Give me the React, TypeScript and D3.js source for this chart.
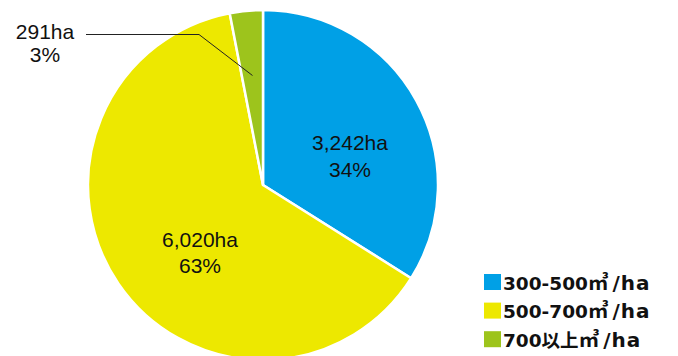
import React from "react";
import * as d3 from "d3";

const categories = ["300-500㎥/ha", "500-700㎥/ha", "700以上㎥/ha"];
const areas = [3242, 6020, 291];
const colors = ["#00a0e6", "#ede800", "#9dc41c"];

const W = 678, H = 356;
const cx = 263, cy = 185, R = 175;

export default function App() {
  const pie = d3.pie<number>().sort(null).value(d => d)(areas);
  const arc = d3.arc<d3.PieArcDatum<number>>().innerRadius(0).outerRadius(R);
  const total = d3.sum(areas);
  const fmtNum = d3.format(",");
  const pct = (v: number) => Math.round((v / total) * 100) + "%";

  // label layout (text placement)
  const labels = [
    { x: 350, y1: 150, y2: 177 },
    { x: 200, y1: 247, y2: 273 },
    { x: 45, y1: 39, y2: 62 },
  ];
  const leaderArc = d3.arc<d3.PieArcDatum<number>>().innerRadius(110).outerRadius(110);
  const gEnd = leaderArc.centroid(pie[2]);

  return (
    <svg width={W} height={H} style={{ position: "absolute", left: 0, top: 0 }}>
      <rect width={W} height={H} fill="#fff" />
      <g transform={`translate(${cx},${cy})`}>
        {pie.map((p, i) => (
          <path key={i} d={arc(p) || ""} fill={colors[i]} stroke="#fff" strokeWidth={2.5} strokeLinejoin="round" />
        ))}
      </g>
      <polyline
        points={`86,34.5 199,34.5 ${cx + gEnd[0]},${cy + gEnd[1]}`}
        fill="none"
        stroke="#222"
        strokeWidth={1}
      />
      {areas.map((v, i) => (
        <g key={i} fontFamily="'Liberation Sans', Arial, sans-serif" fontSize={21} fill="#111" textAnchor="middle">
          <text x={labels[i].x} y={labels[i].y1}>{fmtNum(v)}ha</text>
          <text x={labels[i].x} y={labels[i].y2}>{pct(v)}</text>
        </g>
      ))}
      {categories.map((c, i) => {
        const k = c.indexOf("㎥");
        const head = c.slice(0, k);
        const sym = c.slice(k, k + 1);
        const tail = c.slice(k + 1);
        return (
          <g key={c} transform={`translate(484,${274 + i * 28.6})`}>
            <rect width={17} height={16} fill={colors[i]} />
            <text x={19} y={15.5} fontFamily="'DejaVu Sans', 'Noto Sans CJK JP', sans-serif" fontWeight="bold" fontSize={18.5} fill="#111">
              <tspan>{head}</tspan>
              <tspan fontFamily="'Noto Sans CJK JP', sans-serif" fontSize={20.5}>{sym}</tspan>
              <tspan dx={4} fontSize={20} letterSpacing={1}>{tail}</tspan>
            </text>
          </g>
        );
      })}
    </svg>
  );
}
